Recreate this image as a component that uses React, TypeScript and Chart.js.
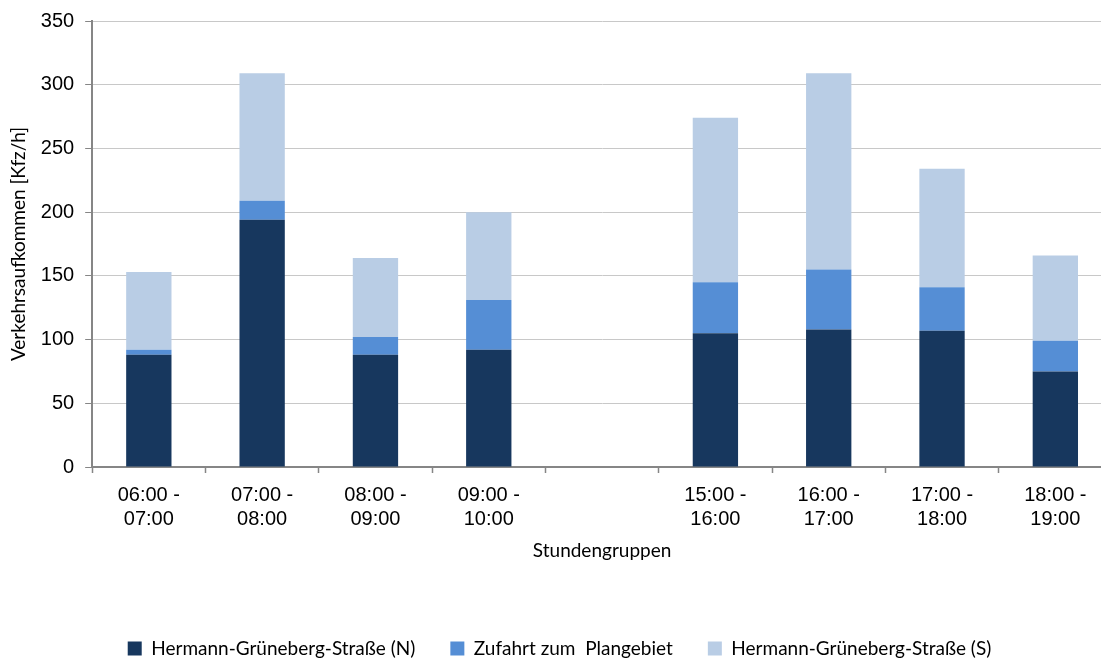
import React, { useEffect, useRef } from "react";
import { Chart, registerables } from "chart.js";

Chart.register(...registerables);

const categories: string[][] = [
  ["06:00 -", "07:00"],
  ["07:00 -", "08:00"],
  ["08:00 -", "09:00"],
  ["09:00 -", "10:00"],
  [""],
  ["15:00 -", "16:00"],
  ["16:00 -", "17:00"],
  ["17:00 -", "18:00"],
  ["18:00 -", "19:00"],
];

const northValues: (number | null)[] = [88, 194, 88, 92, null, 105, 108, 107, 75];
const accessValues: (number | null)[] = [4, 15, 14, 39, null, 40, 47, 34, 24];
const southValues: (number | null)[] = [61, 100, 62, 69, null, 129, 154, 93, 67];

const seriesNames = [
  "Hermann-Grüneberg-Straße (N)",
  "Zufahrt zum  Plangebiet",
  "Hermann-Grüneberg-Straße (S)",
];

const yTitle = "Verkehrsaufkommen [Kfz/h]";
const xTitle = "Stundengruppen";

export default function App() {
  const ref = useRef<HTMLCanvasElement | null>(null);

  useEffect(() => {
    if (!ref.current) return;
    const titleFont = { family: "Lato", size: 19 };
    const tickFont = { family: "'Liberation Sans', Arial, sans-serif", size: 20 };
    const chart = new Chart(ref.current, {
      type: "bar",
      data: {
        labels: categories,
        datasets: [
          { label: seriesNames[0], data: northValues, backgroundColor: "#17375E" },
          { label: seriesNames[1], data: accessValues, backgroundColor: "#558ED5" },
          { label: seriesNames[2], data: southValues, backgroundColor: "#B9CDE5" },
        ],
      },
      options: {
        animation: false,
        responsive: false,
        datasets: { bar: { barPercentage: 0.4, categoryPercentage: 1 } },
        layout: { padding: { left: 7, right: 8, top: 4, bottom: 0 } },
        plugins: {
          tooltip: { enabled: false },
          legend: {
            position: "bottom",
            labels: {
              font: titleFont,
              color: "#000",
              boxWidth: 14,
              boxHeight: 14,
              padding: 35,
            },
          },
        },
        scales: {
          x: {
            stacked: true,
            border: { display: true, color: "#868686", width: 2 },
            grid: {
              display: true,
              drawOnChartArea: false,
              drawTicks: true,
              tickLength: 6,
              tickColor: "#868686",
              tickWidth: 1.5,
              offset: true,
            },
            ticks: {
              font: { ...tickFont, lineHeight: 1.2 },
              color: "#000",
              maxRotation: 0,
              autoSkip: false,
              padding: 10,
            },
            title: {
              display: true,
              text: xTitle,
              font: { ...titleFont, lineHeight: 1 },
              color: "#000",
              padding: { top: 0, bottom: 44 },
            },
          },
          y: {
            stacked: true,
            min: 0,
            max: 350,
            border: { display: true, color: "#868686", width: 2 },
            grid: {
              color: "#C8C8C8",
              lineWidth: 1,
              drawTicks: true,
              tickLength: 7,
              tickColor: "#868686",
            },
            ticks: {
              stepSize: 50,
              font: { ...tickFont, lineHeight: 1 },
              color: "#000",
              padding: 11,
            },
            title: {
              display: true,
              text: yTitle,
              font: titleFont,
              color: "#000",
              padding: { top: 0, bottom: 0 },
            },
          },
        },
      },
    });
    return () => chart.destroy();
  }, []);

  return (
    <div
      style={{
        position: "fixed",
        left: 0,
        top: 0,
        width: 1101,
        height: 660,
        overflow: "hidden",
        background: "#fff",
      }}
    >
      <canvas ref={ref} width={1120} height={668} style={{ display: "block" }} />
    </div>
  );
}
